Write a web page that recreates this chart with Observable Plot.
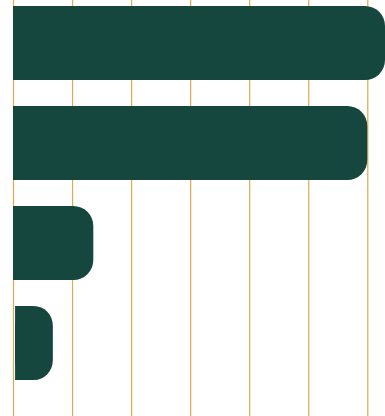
<!DOCTYPE html>
<html>
<head>
<meta charset="utf-8">
<script src="https://cdn.jsdelivr.net/npm/d3@7"></script>
<script src="https://cdn.jsdelivr.net/npm/@observablehq/plot@0.6"></script>
<style>
  html, body { margin: 0; padding: 0; background: #fff; }
</style>
</head>
<body>
<div id="chart"></div>
<script>
const categories = ["A", "B", "C", "D"];
const starts = [0, 0, 0, 0.035];
const values = [6.3, 6.0, 1.36, 0.675];
const ticks = [0, 1, 2, 3, 4, 5, 6];

const data = categories.map((c, i) => ({category: c, start: starts[i], value: values[i]}));

const barColor = "#16473f";
const gridColor = "#dea94f";

const chart = Plot.plot({
  width: 385,
  height: 416,
  marginLeft: 13,
  marginRight: 0,
  marginTop: 0,
  marginBottom: 0,
  x: {domain: [0, d3.max(values)], axis: null},
  y: {domain: categories, axis: null, paddingInner: 0.26, paddingOuter: 0.05, insetBottom: 31},
  marks: [
    Plot.ruleX(ticks, {stroke: gridColor, strokeWidth: 1.2}),
    Plot.barX(data, {y: "category", x1: "start", x2: "value", fill: barColor, rx: 20}),
    Plot.barX(data, {y: "category", x1: "start", x2: "value", fill: barColor, insetRight: 20})
  ]
});
document.getElementById("chart").append(chart);
</script>
</body>
</html>
